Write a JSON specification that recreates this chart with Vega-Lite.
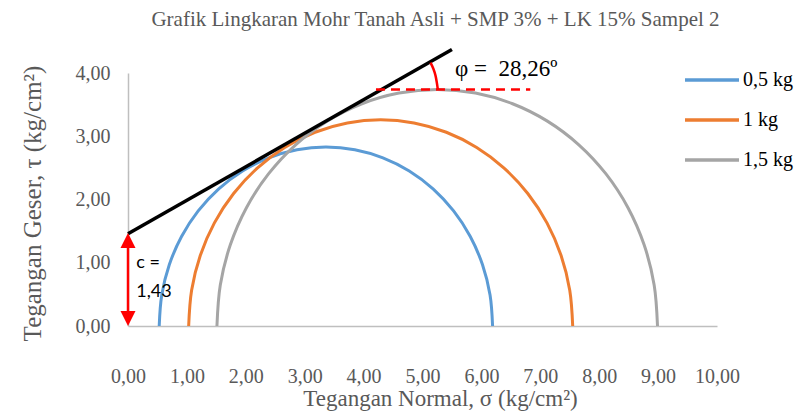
{
  "$schema": "https://vega.github.io/schema/vega-lite/v6.json",
  "width": 589,
  "height": 253,
  "autosize": {"type": "none"},
  "padding": {"left": 128, "top": 73, "right": 85, "bottom": 88},
  "background": "white",
  "config": {
    "view": {"stroke": null},
    "font": "Liberation Serif",
    "axis": {
      "domainColor": "#BFBFBF",
      "domainWidth": 1.5,
      "ticks": false,
      "grid": false,
      "labelFont": "Liberation Serif",
      "labelFontSize": 20,
      "labelColor": "#595959",
      "labelFlush": false,
      "labelOverlap": false,
      "titleFont": "Liberation Serif",
      "titleColor": "#595959",
      "titleFontWeight": "normal"
    },
    "legend": {
      "orient": "none",
      "legendX": 555,
      "legendY": -13,
      "padding": 0,
      "symbolType": "stroke",
      "symbolStrokeWidth": 3.5,
      "symbolSize": 2916,
      "clipHeight": 40,
      "rowPadding": 0,
      "labelOffset": 2,
      "labelFont": "Liberation Serif",
      "labelFontSize": 20,
      "labelColor": "#000000"
    }
  },
  "title": {
    "text": "Grafik Lingkaran Mohr Tanah Asli + SMP 3% + LK 15% Sampel 2",
    "font": "Liberation Serif",
    "fontSize": 21,
    "fontWeight": "normal",
    "color": "#595959",
    "anchor": "middle",
    "frame": "group",
    "dx": 13,
    "offset": -4,
    "baseline": "alphabetic"
  },
  "datasets": {
    "circles": [
      {"beban": "0,5 kg", "a": 180, "x": 0.53, "y": 0},
      {"beban": "0,5 kg", "a": 170, "x": 0.573, "y": 0.491},
      {"beban": "0,5 kg", "a": 160, "x": 0.701, "y": 0.968},
      {"beban": "0,5 kg", "a": 150, "x": 0.909, "y": 1.415},
      {"beban": "0,5 kg", "a": 140, "x": 1.192, "y": 1.819},
      {"beban": "0,5 kg", "a": 130, "x": 1.541, "y": 2.168},
      {"beban": "0,5 kg", "a": 120, "x": 1.945, "y": 2.451},
      {"beban": "0,5 kg", "a": 110, "x": 2.392, "y": 2.659},
      {"beban": "0,5 kg", "a": 100, "x": 2.869, "y": 2.787},
      {"beban": "0,5 kg", "a": 90, "x": 3.36, "y": 2.83},
      {"beban": "0,5 kg", "a": 80, "x": 3.851, "y": 2.787},
      {"beban": "0,5 kg", "a": 70, "x": 4.328, "y": 2.659},
      {"beban": "0,5 kg", "a": 60, "x": 4.775, "y": 2.451},
      {"beban": "0,5 kg", "a": 50, "x": 5.179, "y": 2.168},
      {"beban": "0,5 kg", "a": 40, "x": 5.528, "y": 1.819},
      {"beban": "0,5 kg", "a": 30, "x": 5.811, "y": 1.415},
      {"beban": "0,5 kg", "a": 20, "x": 6.019, "y": 0.968},
      {"beban": "0,5 kg", "a": 10, "x": 6.147, "y": 0.491},
      {"beban": "0,5 kg", "a": 0, "x": 6.19, "y": 0},
      {"beban": "1 kg", "a": 180, "x": 1.03, "y": 0},
      {"beban": "1 kg", "a": 170, "x": 1.08, "y": 0.566},
      {"beban": "1 kg", "a": 160, "x": 1.227, "y": 1.115},
      {"beban": "1 kg", "a": 150, "x": 1.467, "y": 1.63},
      {"beban": "1 kg", "a": 140, "x": 1.793, "y": 2.095},
      {"beban": "1 kg", "a": 130, "x": 2.195, "y": 2.497},
      {"beban": "1 kg", "a": 120, "x": 2.66, "y": 2.823},
      {"beban": "1 kg", "a": 110, "x": 3.175, "y": 3.063},
      {"beban": "1 kg", "a": 100, "x": 3.724, "y": 3.21},
      {"beban": "1 kg", "a": 90, "x": 4.29, "y": 3.26},
      {"beban": "1 kg", "a": 80, "x": 4.856, "y": 3.21},
      {"beban": "1 kg", "a": 70, "x": 5.405, "y": 3.063},
      {"beban": "1 kg", "a": 60, "x": 5.92, "y": 2.823},
      {"beban": "1 kg", "a": 50, "x": 6.385, "y": 2.497},
      {"beban": "1 kg", "a": 40, "x": 6.787, "y": 2.095},
      {"beban": "1 kg", "a": 30, "x": 7.113, "y": 1.63},
      {"beban": "1 kg", "a": 20, "x": 7.353, "y": 1.115},
      {"beban": "1 kg", "a": 10, "x": 7.5, "y": 0.566},
      {"beban": "1 kg", "a": 0, "x": 7.55, "y": 0},
      {"beban": "1,5 kg", "a": 180, "x": 1.51, "y": 0},
      {"beban": "1,5 kg", "a": 170, "x": 1.567, "y": 0.649},
      {"beban": "1,5 kg", "a": 160, "x": 1.736, "y": 1.279},
      {"beban": "1,5 kg", "a": 150, "x": 2.011, "y": 1.87},
      {"beban": "1,5 kg", "a": 140, "x": 2.385, "y": 2.404},
      {"beban": "1,5 kg", "a": 130, "x": 2.846, "y": 2.865},
      {"beban": "1,5 kg", "a": 120, "x": 3.38, "y": 3.239},
      {"beban": "1,5 kg", "a": 110, "x": 3.971, "y": 3.514},
      {"beban": "1,5 kg", "a": 100, "x": 4.601, "y": 3.683},
      {"beban": "1,5 kg", "a": 90, "x": 5.25, "y": 3.74},
      {"beban": "1,5 kg", "a": 80, "x": 5.899, "y": 3.683},
      {"beban": "1,5 kg", "a": 70, "x": 6.529, "y": 3.514},
      {"beban": "1,5 kg", "a": 60, "x": 7.12, "y": 3.239},
      {"beban": "1,5 kg", "a": 50, "x": 7.654, "y": 2.865},
      {"beban": "1,5 kg", "a": 40, "x": 8.115, "y": 2.404},
      {"beban": "1,5 kg", "a": 30, "x": 8.489, "y": 1.87},
      {"beban": "1,5 kg", "a": 20, "x": 8.764, "y": 1.279},
      {"beban": "1,5 kg", "a": 10, "x": 8.933, "y": 0.649},
      {"beban": "1,5 kg", "a": 0, "x": 8.99, "y": 0}
    ],
    "envelope": [
      {"x": 0, "y": 1.46},
      {"x": 5.5, "y": 4.37}
    ],
    "horizontal": [
      {"x": 4.21, "y": 3.74},
      {"x": 6.83, "y": 3.74}
    ],
    "arc": [
      {"k": 0, "x": 5.26, "y": 3.74},
      {"k": 1, "x": 5.243, "y": 3.85},
      {"k": 2, "x": 5.221, "y": 3.958},
      {"k": 3, "x": 5.186, "y": 4.063},
      {"k": 4, "x": 5.136, "y": 4.163}
    ],
    "cohesion": [
      {"x": 0, "y": 0.12, "y2": 1.35}
    ],
    "arrowTop": [{"x": 0, "y": 1.47}],
    "arrowBottom": [{"x": 0, "y": 0}],
    "cLabel": [
      {"x": 0.14, "y": 0.99, "t": "c ="},
      {"x": 0.14, "y": 0.53, "t": "1,43"}
    ],
    "phiLabel": [
      {"x": 5.55, "y": 4.07, "t": "φ = \u00a028,26º"}
    ]
  },
  "encoding": {
    "x": {
      "field": "x",
      "type": "quantitative",
      "scale": {"domain": [0, 10], "nice": false, "zero": false},
      "axis": {
        "values": [0, 1, 2, 3, 4, 5, 6, 7, 8, 9, 10],
        "labelExpr": "replace(format(datum.value, '.2f'), '.', ',')",
        "labelBaseline": "alphabetic",
        "labelPadding": 56,
        "title": "Tegangan Normal, σ (kg/cm²)",
        "titleFontSize": 23,
        "titleX": 312,
        "titleY": 79.5,
        "titleAnchor": null,
        "titleAlign": "center",
        "titleBaseline": "alphabetic"
      }
    },
    "y": {
      "field": "y",
      "type": "quantitative",
      "scale": {"domain": [0, 4], "nice": false, "zero": false},
      "axis": {
        "values": [0, 1, 2, 3, 4],
        "labelExpr": "replace(format(datum.value, '.2f'), '.', ',')",
        "labelPadding": 18,
        "title": "Tegangan Geser, τ (kg/cm²)",
        "titleFontSize": 25,
        "titleAngle": 270,
        "titleX": -96,
        "titleY": 130,
        "titleAlign": "center",
        "titleBaseline": "middle"
      }
    }
  },
  "layer": [
    {
      "data": {"name": "circles"},
      "mark": {"type": "line", "strokeWidth": 3, "interpolate": "catmull-rom", "clip": false},
      "encoding": {
        "color": {
          "field": "beban",
          "type": "nominal",
          "scale": {"domain": ["0,5 kg", "1 kg", "1,5 kg"], "range": ["#5B9BD5", "#ED7D31", "#A5A5A5"]},
          "legend": {"title": null}
        },
        "order": {"field": "a", "sort": "descending"}
      }
    },
    {
      "data": {"name": "envelope"},
      "mark": {"type": "line", "color": "#000000", "strokeWidth": 3.5},
      "encoding": {}
    },
    {
      "data": {"name": "horizontal"},
      "mark": {"type": "line", "color": "#FF0000", "strokeWidth": 2.5, "strokeDash": [9, 6]},
      "encoding": {}
    },
    {
      "data": {"name": "arc"},
      "mark": {"type": "line", "color": "#FF0000", "strokeWidth": 2.5, "interpolate": "catmull-rom"},
      "encoding": {"order": {"field": "k"}}
    },
    {
      "data": {"name": "cohesion"},
      "mark": {"type": "rule", "color": "#FF0000", "strokeWidth": 2.5},
      "encoding": {"y2": {"field": "y2"}}
    },
    {
      "data": {"name": "arrowTop"},
      "mark": {"type": "point", "shape": "M0,0L-1,2L1,2Z", "size": 225, "filled": true, "color": "#FF0000", "opacity": 1}
    },
    {
      "data": {"name": "arrowBottom"},
      "mark": {"type": "point", "shape": "M0,0L-1,-2L1,-2Z", "size": 225, "filled": true, "color": "#FF0000", "opacity": 1}
    },
    {
      "data": {"name": "cLabel"},
      "mark": {"type": "text", "font": "Lato", "fontSize": 18, "align": "left", "baseline": "middle", "color": "#000000"},
      "encoding": {"text": {"field": "t"}}
    },
    {
      "data": {"name": "phiLabel"},
      "mark": {"type": "text", "font": "Liberation Serif", "fontSize": 23, "align": "left", "baseline": "middle", "color": "#000000"},
      "encoding": {"text": {"field": "t"}}
    }
  ]
}
